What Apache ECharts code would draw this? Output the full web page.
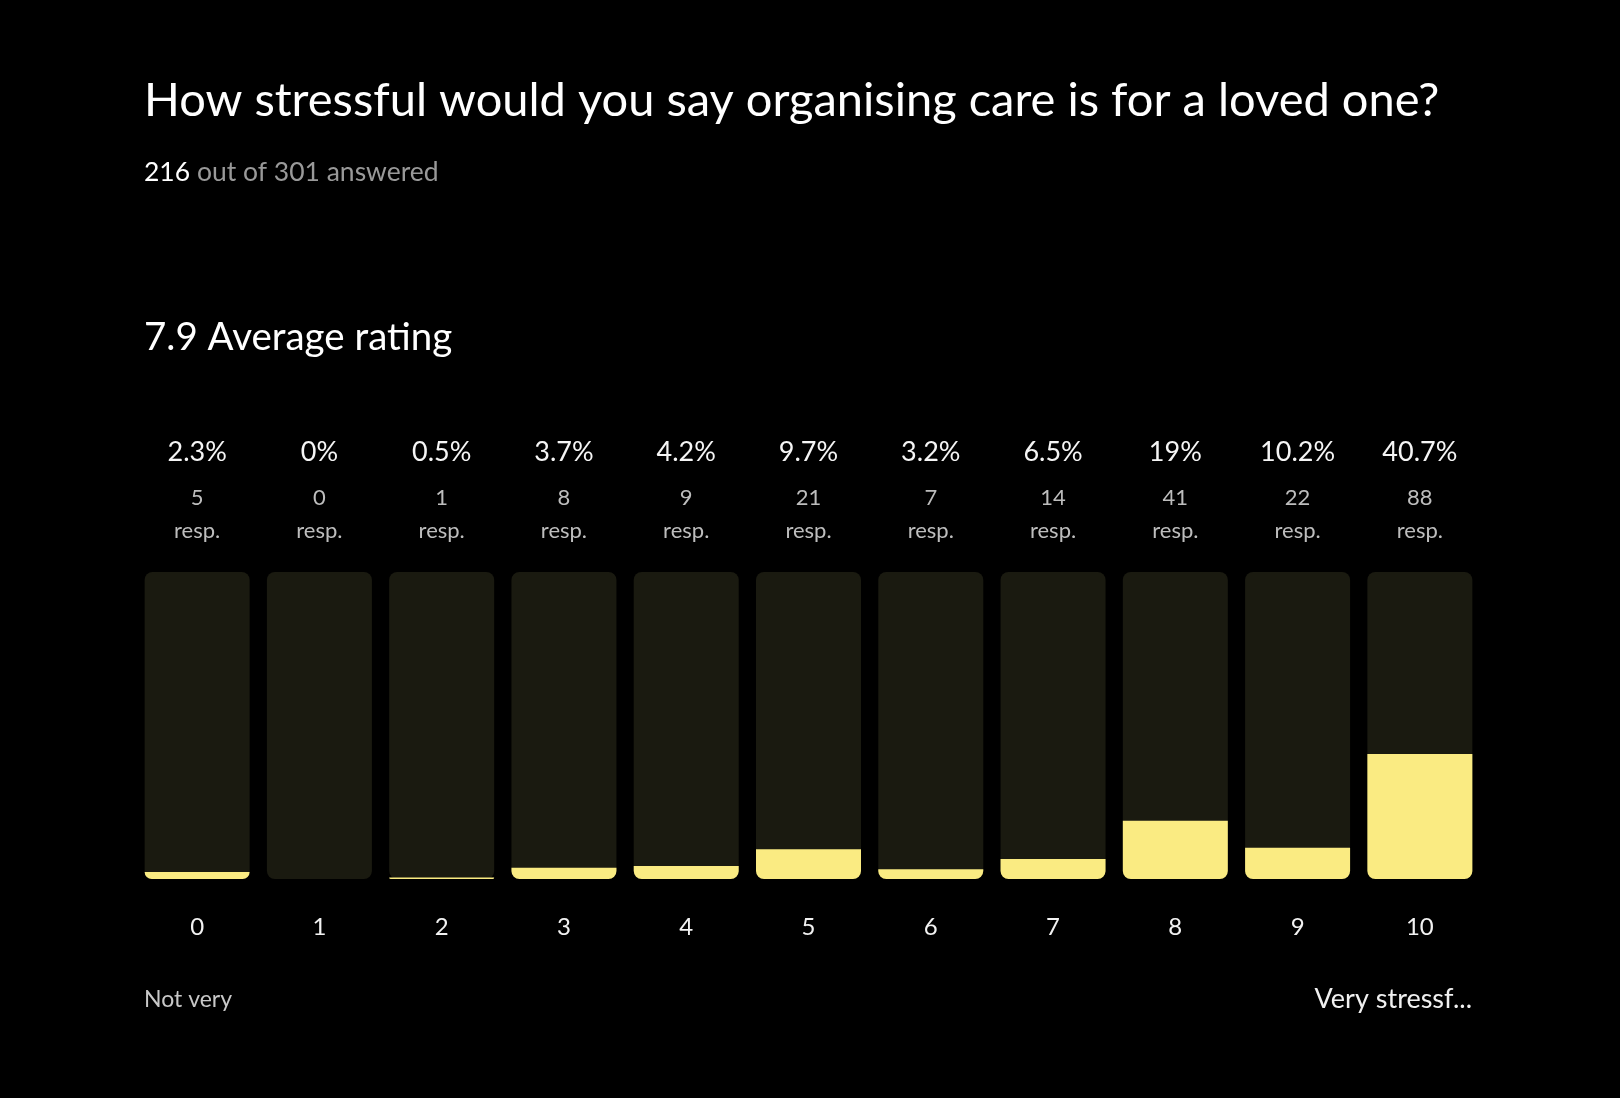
<!DOCTYPE html>
<html>
<head>
<meta charset="utf-8">
<style>
html,body{margin:0;padding:0;background:#000;}
#c{width:1620px;height:1098px;}
</style>
<script src="https://cdn.jsdelivr.net/npm/echarts@6/dist/echarts.min.js"></script>
</head>
<body>
<div id="c"></div>
<script>
var categories = ['0','1','2','3','4','5','6','7','8','9','10'];
var percents = [2.3, 0, 0.5, 3.7, 4.2, 9.7, 3.2, 6.5, 19, 10.2, 40.7];
var counts = [5, 0, 1, 8, 9, 21, 7, 14, 41, 22, 88];
var titleText = 'How stressful would you say organising care is for a loved one?';
var answered = 216, total = 301;
var average = 7.9;
var lowLabel = 'Not very';
var highLabel = 'Very stressf...';

var FONT = 'Lato, "Noto Sans", sans-serif';
var chart = echarts.init(document.getElementById('c'), null, {renderer:'canvas'});
var full = categories.map(function(){ return 100; });

chart.setOption({
  backgroundColor: '#000',
  animation: false,
  grid: { left: 136, right: 139, top: 572, bottom: 219, containLabel: false },
  xAxis: {
    type: 'category', data: categories,
    axisLine: {show:false}, axisTick: {show:false}, splitLine:{show:false},
    axisLabel: { color: '#f2f2f2', fontSize: 24, fontFamily: FONT, margin: 36, lineHeight: 24 }
  },
  yAxis: { type: 'value', min: 0, max: 100, show: false },
  series: [
    {
      type: 'bar', data: full, barWidth: 105, barGap: '-100%', silent: true,
      itemStyle: { color: '#1a1a10', borderRadius: 8 },
      label: {
        show: true, position: 'top', distance: 25,
        formatter: function(p){ return '{p|' + percents[p.dataIndex] + '%}\n{n|' + counts[p.dataIndex] + '}\n{n|resp.}'; },
        rich: {
          p: { color: '#f5f5f5', fontSize: 27, fontFamily: FONT, lineHeight: 58, align: 'center' },
          n: { color: '#bdbdbd', fontSize: 22, fontFamily: FONT, lineHeight: 33, align: 'center' }
        }
      },
      z: 1
    },
    {
      type: 'bar', data: percents, barWidth: 105, barGap: '-100%',
      itemStyle: { color: '#faeb82', borderRadius: [0,0,8,8] },
      z: 2
    }
  ],
  graphic: [
    { type: 'text', left: 144, top: 77, style: { text: titleText, fill: '#ffffff', font: '47px ' + FONT } },
    { type: 'text', left: 144, top: 159, style: { text: '{a|' + answered + '}{b| out of ' + total + ' answered}',
        rich: { a: { fill: '#ffffff', font: '26.5px ' + FONT }, b: { fill: '#999999', font: '26.5px ' + FONT } } } },
    { type: 'text', left: 144, top: 318, style: { text: average + ' Average rating', fill: '#ffffff', font: '38.5px ' + FONT } },
    { type: 'text', left: 144, top: 988, style: { text: lowLabel, fill: '#c8c8c8', font: '23px ' + FONT } },
    { type: 'text', right: 148, top: 986, style: { text: highLabel, fill: '#f0f0f0', font: '27px ' + FONT } }
  ]
});
</script>
</body>
</html>
